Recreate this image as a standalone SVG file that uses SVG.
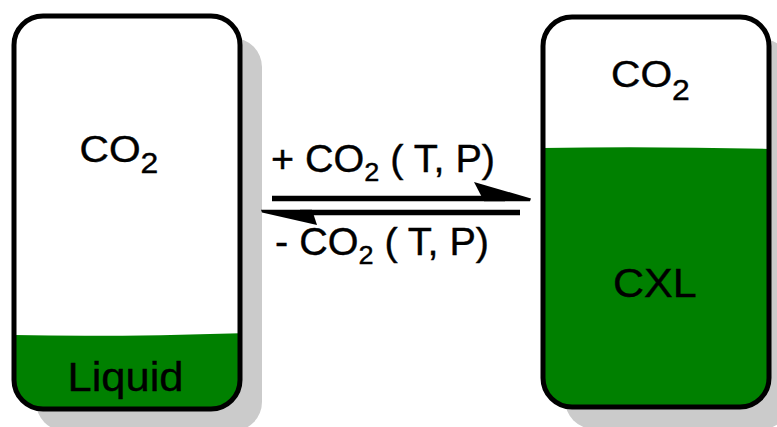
<svg xmlns="http://www.w3.org/2000/svg" width="777" height="427" viewBox="0 0 777 427">
  <style>
    .shadow { fill: #cbcbcb; }
    .vessel { fill: none; stroke: #000; stroke-width: 5; }
    .liquid { fill: #008000; }
    .lbl { font-family: "Liberation Sans", Arial, sans-serif; fill: #000; stroke: #000; stroke-width: 0.4; }
    .big { font-size: 37px; }
    .sub { font-size: 29px; }
    .fill-lbl { font-size: 41px; }
    .arrow-lbl { font-size: 38px; }
    .arrow-sub { font-size: 26px; }
    .shaft { stroke: #000; stroke-width: 5.5; fill: none; }
    .head { fill: #000; }
  </style>
  <defs>
    <clipPath id="clipL"><rect x="14" y="16" width="226" height="393" rx="29" ry="29"/></clipPath>
    <clipPath id="clipR"><rect x="543" y="17" width="226" height="390" rx="29" ry="29"/></clipPath>
  </defs>
  <rect width="777" height="427" fill="#fff"/>

  <g id="vessel-left">
    <rect class="shadow" x="36" y="38" width="226" height="393" rx="29" ry="29"/>
    <rect x="14" y="16" width="226" height="393" rx="29" ry="29" fill="#fff"/>
    <path class="liquid" clip-path="url(#clipL)" d="M10,335 Q120,337 244,333 L244,415 L10,415 Z"/>
    <rect class="vessel" x="14" y="16" width="226" height="393" rx="29" ry="29"/>
    <text class="lbl big" transform="translate(79.5,162) scale(1.1,1)">CO<tspan class="sub" dy="11">2</tspan></text>
    <text class="lbl fill-lbl" transform="translate(67.5,391) scale(1.06,1)">Liquid</text>
  </g>

  <g id="vessel-right">
    <rect class="shadow" x="565" y="39" width="226" height="390" rx="29" ry="29"/>
    <rect x="543" y="17" width="226" height="390" rx="29" ry="29" fill="#fff"/>
    <path class="liquid" clip-path="url(#clipR)" d="M539,148 Q650,146 773,149 L773,412 L539,412 Z"/>
    <rect class="vessel" x="543" y="17" width="226" height="390" rx="29" ry="29"/>
    <text class="lbl big" transform="translate(611,87) scale(1.1,1)">CO<tspan class="sub" dy="13">2</tspan></text>
    <text class="lbl fill-lbl" transform="translate(613,297) scale(1.05,1)">CXL</text>
  </g>

  <g id="connectors">
    <line class="shaft" x1="272" y1="198.5" x2="505" y2="198.5"/>
    <polygon class="head" points="474,182 531,198.5 530,201.3 484,201.3"/>
    <line class="shaft" x1="300" y1="212.5" x2="520" y2="212.5"/>
    <polygon class="head" points="261,209.8 312,209.8 317,225 262,212.5"/>
    <text class="lbl arrow-lbl" transform="translate(271,172) scale(1.04,1)">+ CO<tspan class="arrow-sub" dy="9">2</tspan><tspan dy="-9"> ( T, P)</tspan></text>
    <text class="lbl arrow-lbl" transform="translate(275,255) scale(1.04,1)">- CO<tspan class="arrow-sub" dy="9">2</tspan><tspan dy="-9"> ( T, P)</tspan></text>
  </g>
</svg>
